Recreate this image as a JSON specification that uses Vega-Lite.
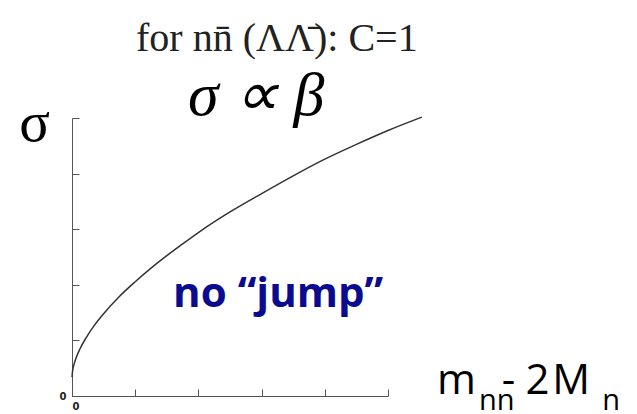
{
  "$schema": "https://vega.github.io/schema/vega-lite/v6.json",
  "width": 316,
  "height": 278,
  "autosize": "none",
  "padding": {"left": 72, "top": 118, "right": 249, "bottom": 18},
  "background": "white",
  "config": {"view": {"stroke": null}},
  "title": {
    "text": "for nn̄ (ΛΛ̄): C=1",
    "anchor": "start",
    "frame": "group",
    "dx": 64,
    "offset": 20,
    "dy": 46,
    "baseline": "alphabetic",
    "font": "Liberation Serif",
    "fontSize": 40,
    "fontWeight": "normal",
    "color": "#222222"
  },
  "layer": [
    {
      "data": {
        "values": [
          {"x": 0.0, "y": 0.68},
          {"x": 0.02, "y": 0.91},
          {"x": 0.06, "y": 1.12},
          {"x": 0.12, "y": 1.34},
          {"x": 0.25, "y": 1.69},
          {"x": 0.45, "y": 2.1},
          {"x": 0.7, "y": 2.53},
          {"x": 1.0, "y": 2.96},
          {"x": 1.5, "y": 3.58},
          {"x": 2.0, "y": 4.11},
          {"x": 2.5, "y": 4.6},
          {"x": 3.0, "y": 5.05},
          {"x": 3.5, "y": 5.47},
          {"x": 4.0, "y": 5.88},
          {"x": 5.0, "y": 6.62},
          {"x": 6.0, "y": 7.28},
          {"x": 7.0, "y": 7.92},
          {"x": 8.0, "y": 8.52},
          {"x": 9.0, "y": 9.05},
          {"x": 10.0, "y": 9.55},
          {"x": 11.07, "y": 10.03}
        ]
      },
      "mark": {"type": "line", "color": "#333333", "strokeWidth": 1.5, "interpolate": "monotone"},
      "encoding": {
        "x": {
          "field": "x",
          "type": "quantitative",
          "scale": {"domain": [0, 10], "nice": false, "zero": false},
          "axis": {
            "title": null,
            "values": [0, 1, 2, 3, 4, 5, 6, 7, 8, 9, 10],
            "grid": false,
            "domainColor": "#555555",
            "tickColor": "#555555",
            "tickSize": {"condition": {"test": "datum.value % 2 === 0", "value": -7}, "value": -3},
            "labelExpr": "datum.value === 0 ? '0' : ''",
            "labelFont": "DejaVu Sans",
            "labelFontWeight": "bold",
            "labelFontSize": 10,
            "labelColor": "#222222",
            "labelPadding": 12
          }
        },
        "y": {
          "field": "y",
          "type": "quantitative",
          "scale": {"domain": [0, 10], "nice": false, "zero": false},
          "axis": {
            "values": [0, 1, 2, 3, 4, 5, 6, 7, 8, 9, 10],
            "grid": false,
            "domainColor": "#555555",
            "tickColor": "#555555",
            "tickSize": {"condition": {"test": "datum.value % 2 === 0", "value": -7}, "value": -4},
            "labelExpr": "datum.value === 0 ? '0' : ''",
            "labelFont": "DejaVu Sans",
            "labelFontWeight": "bold",
            "labelFontSize": 10,
            "labelColor": "#222222",
            "labelPadding": 13,
            "title": "σ",
            "titleFont": "Liberation Serif",
            "titleFontSize": 57,
            "titleFontWeight": "normal",
            "titleColor": "#000000",
            "titleAngle": 0,
            "titleAlign": "center",
            "titleBaseline": "alphabetic",
            "titleX": -38,
            "titleY": 22
          }
        }
      }
    },
    {
      "data": {"values": [{"x": 3.67, "y": 10.11, "label": "σ ∝ β"}]},
      "mark": {"type": "text", "font": "Liberation Serif", "fontStyle": "italic", "fontSize": 62, "align": "left", "baseline": "alphabetic", "color": "#000000"},
      "encoding": {
        "x": {"field": "x", "type": "quantitative"},
        "y": {"field": "y", "type": "quantitative"},
        "text": {"field": "label"}
      }
    },
    {
      "data": {"values": [{"x": 3.2, "y": 3.2, "label": "no “jump”"}]},
      "mark": {"type": "text", "font": "Open Sans", "fontWeight": "bold", "fontSize": 42, "align": "left", "baseline": "alphabetic", "color": "#0b0b8f"},
      "encoding": {
        "x": {"field": "x", "type": "quantitative"},
        "y": {"field": "y", "type": "quantitative"},
        "text": {"field": "label"}
      }
    },
    {
      "data": {
        "values": [
          {"x": 11.55, "y": 0.07, "label": "m"},
          {"x": 13.6, "y": 0.07, "label": "-"},
          {"x": 14.35, "y": 0.07, "label": "2"},
          {"x": 15.2, "y": 0.07, "label": "M"}
        ]
      },
      "mark": {"type": "text", "font": "Open Sans", "fontSize": 42, "align": "left", "baseline": "alphabetic", "color": "#000000"},
      "encoding": {
        "x": {"field": "x", "type": "quantitative"},
        "y": {"field": "y", "type": "quantitative"},
        "text": {"field": "label"}
      }
    },
    {
      "data": {
        "values": [
          {"x": 12.88, "y": -0.5, "label": "nn"},
          {"x": 16.78, "y": -0.5, "label": "n"}
        ]
      },
      "mark": {"type": "text", "font": "Open Sans", "fontSize": 29, "align": "left", "baseline": "alphabetic", "color": "#000000"},
      "encoding": {
        "x": {"field": "x", "type": "quantitative"},
        "y": {"field": "y", "type": "quantitative"},
        "text": {"field": "label"}
      }
    }
  ]
}
